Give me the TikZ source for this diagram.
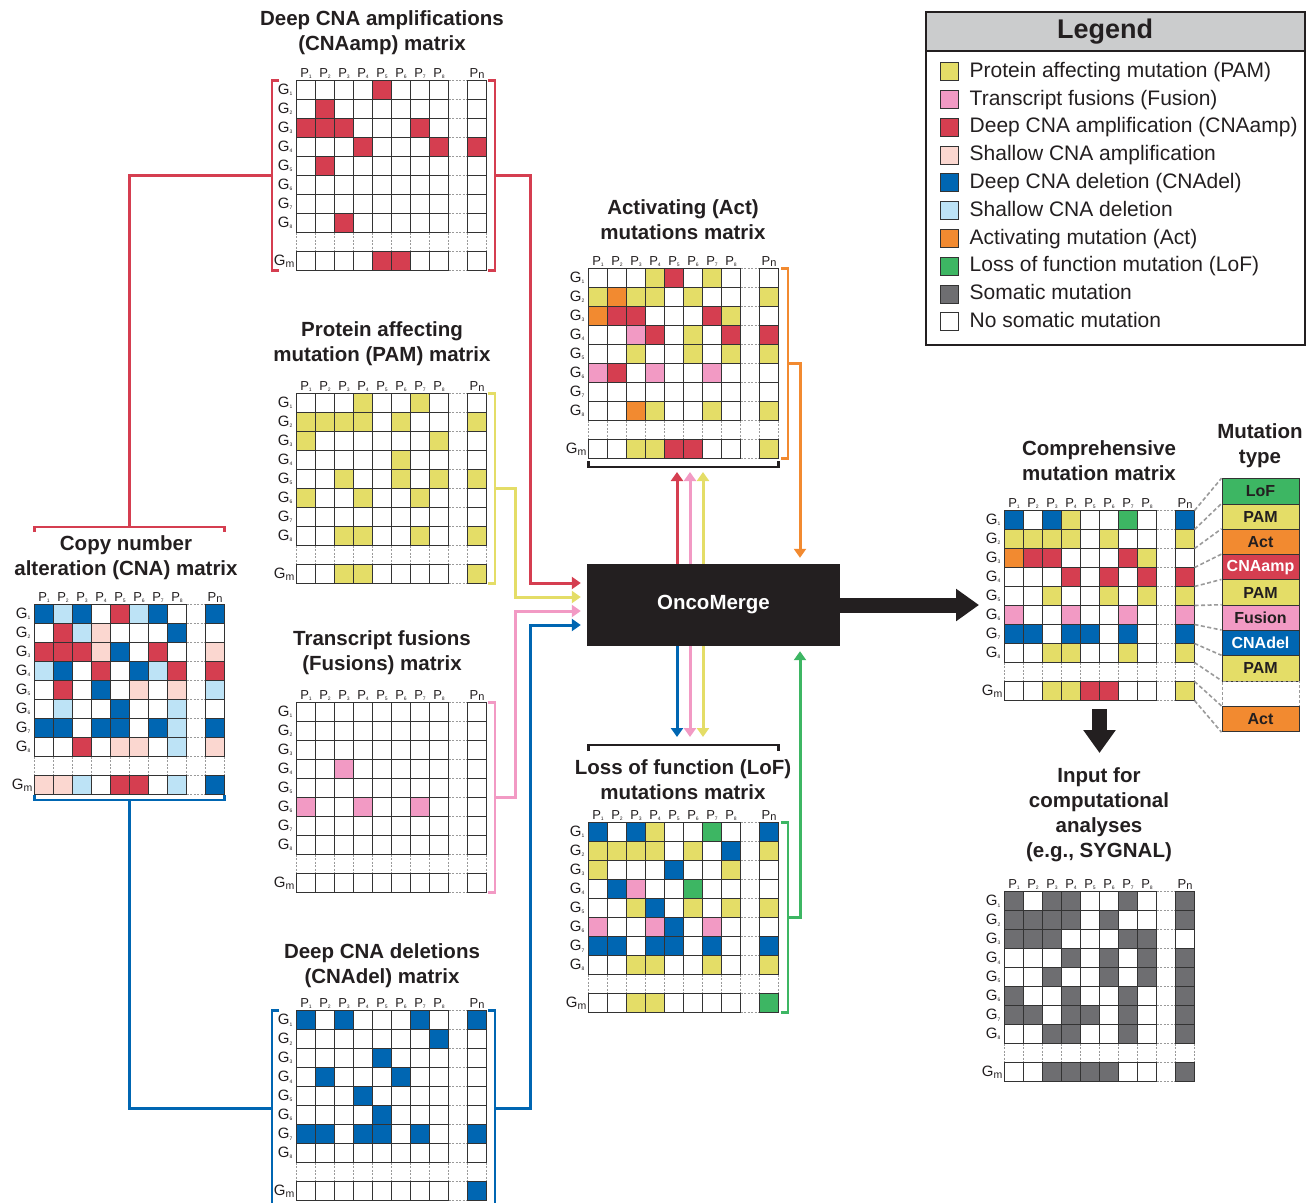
\documentclass[tikz,border=0pt]{standalone}
\usepackage{fontspec}
\setmainfont{Liberation Sans}
\usepackage{tikz}
\usetikzlibrary{arrows.meta}
\usetikzlibrary{calc}
\usetikzlibrary{positioning}

\definecolor{ink}{HTML}{231F20}
\definecolor{m0}{HTML}{FFFFFF}
\definecolor{m1}{HTML}{E4DD67}
\definecolor{m2}{HTML}{F29AC4}
\definecolor{m3}{HTML}{D53E50}
\definecolor{m4}{HTML}{FBD7D0}
\definecolor{m5}{HTML}{0066B2}
\definecolor{m6}{HTML}{BDE3F6}
\definecolor{m7}{HTML}{F28A30}
\definecolor{m8}{HTML}{3DB663}
\definecolor{m9}{HTML}{6E6E71}
\definecolor{headgray}{HTML}{CBCCCD}
\definecolor{gridline}{HTML}{333333}
\definecolor{gapgray}{HTML}{9A9A9A}

\newcommand{\gsub}[1]{\raisebox{-1.5pt}{\fontsize{5}{5}\selectfont #1}}
\newcommand{\psub}[1]{\raisebox{-1pt}{\fontsize{5}{5}\selectfont #1}}
\newcommand{\msub}[1]{\raisebox{-2pt}{\fontsize{10.5}{10.5}\selectfont #1}}

\newcommand{\genematrix}[4]{%
  \begin{scope}[shift={(#2,#3)}]
    \foreach \k in {0,...,10}{
      \draw[gapline] (\k*\cellsz,8*\cellsz) -- ++(0,\cellsz);
      \draw[gapline] (8*\cellsz,\k*\cellsz) -- ++(\cellsz,0);
    }
    \foreach \row [count=\rw] in {#4}{
      \pgfmathtruncatemacro{\ry}{\rw<9 ? \rw-1 : 9}
      \foreach \v [count=\col] in \row{
        \pgfmathtruncatemacro{\cx}{\col<9 ? \col-1 : 9}
        \draw[cell,fill=m\v] (\cx*\cellsz,\ry*\cellsz) rectangle ++(\cellsz,\cellsz);
      }
    }
    \foreach \rw in {1,...,8}
      \node[glab] (#1g\rw) at (-4,\rw*\cellsz-0.5*\cellsz) {G\gsub{\rw}};
    \node[glab] (#1gm) at (-2,9.5*\cellsz) {G\msub{m}};
    \foreach \col in {1,...,8}
      \node[plab] (#1p\col) at (\col*\cellsz-0.5*\cellsz,-2) {P\psub{\col}};
    \node[plab] (#1pn) at (9.5*\cellsz,-2) {P\raisebox{-0.5pt}{\fontsize{11}{11}\selectfont n}};
  \end{scope}}

\tikzset{
  cell/.style={draw=gridline,line width=1.4pt},
  gapline/.style={draw=gapgray,line width=0.8pt,dash pattern=on 2pt off 1.5pt},
  glab/.style={anchor=east,inner sep=0pt,text=ink,font=\fontsize{15}{15}\selectfont},
  plab/.style={anchor=south,inner sep=0pt,text=ink,font=\fontsize{13}{13}\selectfont},
  title/.style={align=center,inner sep=0pt,text=ink,font=\bfseries\fontsize{20.5}{25}\selectfont},
  brk/.style={line width=2.6pt},
  link/.style={line width=3pt},
  feed/.style={line width=3pt,-{Triangle[length=9pt,width=12pt]}},
  bigarrow/.style={draw=ink,line width=15pt,-{Triangle[length=23pt,width=31pt]}},
  merge/.style={fill=ink,text=white,minimum width=253pt,minimum height=82pt,inner sep=0pt,font=\bfseries\fontsize{20.5}{20.5}\selectfont},
  legendhead/.style={fill=headgray,draw=ink,line width=1.5pt,minimum width=379pt,minimum height=39pt,inner sep=0pt},
  legtitle/.style={inner sep=0pt,text=ink,font=\bfseries\fontsize{27}{27}\selectfont},
  swatch/.style={draw=gridline,line width=1pt,minimum size=18pt,inner sep=0pt},
  legtext/.style={inner sep=0pt,text=ink,text height=15pt,text depth=4pt,font=\fontsize{21}{21}\selectfont},
  typebox/.style={draw=gridline,line width=1pt,minimum width=77pt,minimum height=25.3pt,inner sep=0pt,font=\bfseries\fontsize{16}{16}\selectfont},
  typelink/.style={draw=gapgray,line width=1.6pt,dash pattern=on 4pt off 2.5pt}
}

\begin{document}
\begin{tikzpicture}[x=1pt,y=-1pt]
    \pgfmathsetmacro{\cellsz}{19}
    \useasboundingbox (0,0) rectangle (1314,1202);

    \node[title] (tAmp) at (382,32.5) {Deep CNA amplifications\\(CNAamp) matrix};
    \node[title] (tPam) at (382,343.5) {Protein affecting\\mutation (PAM) matrix};
    \node[title] (tFus) at (382,652.5) {Transcript fusions\\(Fusions) matrix};
    \node[title] (tDel) at (382,965.5) {Deep CNA deletions\\(CNAdel) matrix};
    \node[title] (tCna) at (126,557.5) {Copy number\\alteration (CNA) matrix};
    \node[title] (tAct) at (683,220) {Activating (Act)\\mutations matrix};
    \node[title] (tLof) at (683,779.5) {Loss of function (LoF)\\mutations matrix};
    \node[title] (tComp) at (1099,460.5) {Comprehensive\\mutation matrix};
    \node[title] (tType) at (1260,446) {Mutation\\type};
    \node[title] (tSyg) at (1099,814.5) {Input for\\computational\\analyses\\(e.g., SYGNAL)};

    \genematrix{amp}{296.5}{80.5}{{0,0,0,0,3,0,0,0,0},{0,3,0,0,0,0,0,0,0},{3,3,3,0,0,0,3,0,0},{0,0,0,3,0,0,0,3,3},{0,3,0,0,0,0,0,0,0},{0,0,0,0,0,0,0,0,0},{0,0,0,0,0,0,0,0,0},{0,0,3,0,0,0,0,0,0},{0,0,0,0,3,3,0,0,0}}
    \genematrix{pam}{296.5}{393.5}{{0,0,0,1,0,0,1,0,0},{1,1,1,1,0,1,0,0,1},{1,0,0,0,0,0,0,1,0},{0,0,0,0,0,1,0,0,0},{0,0,1,0,0,1,0,1,1},{1,0,0,1,0,0,1,0,0},{0,0,0,0,0,0,0,0,0},{0,0,1,1,0,0,1,0,1},{0,0,1,1,0,0,0,0,1}}
    \genematrix{fus}{296.5}{702.5}{{0,0,0,0,0,0,0,0,0},{0,0,0,0,0,0,0,0,0},{0,0,0,0,0,0,0,0,0},{0,0,2,0,0,0,0,0,0},{0,0,0,0,0,0,0,0,0},{2,0,0,2,0,0,2,0,0},{0,0,0,0,0,0,0,0,0},{0,0,0,0,0,0,0,0,0},{0,0,0,0,0,0,0,0,0}}
    \genematrix{del}{296.5}{1010.5}{{5,0,5,0,0,0,5,0,5},{0,0,0,0,0,0,0,5,0},{0,0,0,0,5,0,0,0,0},{0,5,0,0,0,5,0,0,0},{0,0,0,5,0,0,0,0,0},{0,0,0,0,5,0,0,0,0},{5,5,0,5,5,0,5,0,5},{0,0,0,0,0,0,0,0,0},{0,0,0,0,0,0,0,0,5}}
    \genematrix{cna}{34.5}{604.5}{{5,6,5,0,3,6,5,0,5},{0,3,6,4,0,0,0,5,0},{3,3,3,4,5,0,3,0,4},{6,5,0,3,0,5,6,3,3},{0,3,0,5,0,4,0,4,6},{0,6,0,0,5,0,0,6,0},{5,5,0,5,5,0,5,6,5},{0,0,3,0,4,4,0,6,4},{4,4,6,0,3,3,0,6,5}}
    \genematrix{act}{588.5}{268.5}{{0,0,0,1,3,0,1,0,0},{1,7,1,1,0,1,0,0,1},{7,3,3,0,0,0,3,1,0},{0,0,2,3,0,1,0,3,3},{0,0,1,0,0,1,0,1,1},{2,3,0,2,0,0,2,0,0},{0,0,0,0,0,0,0,0,0},{0,0,7,1,0,0,1,0,1},{0,0,1,1,3,3,0,0,1}}
    \genematrix{lof}{588.5}{822.5}{{5,0,5,1,0,0,8,0,5},{1,1,1,1,0,1,0,5,1},{1,0,0,0,5,0,0,1,0},{0,5,2,0,0,8,0,0,0},{0,0,1,5,0,1,0,1,1},{2,0,0,2,5,0,2,0,0},{5,5,0,5,5,0,5,0,5},{0,0,1,1,0,0,1,0,1},{0,0,1,1,0,0,0,0,8}}
    \genematrix{comp}{1004.5}{510.5}{{5,0,5,1,0,0,8,0,5},{1,1,1,1,0,1,0,0,1},{7,3,3,0,0,0,3,1,0},{0,0,0,3,0,3,0,3,3},{0,0,1,0,0,1,0,1,1},{2,0,0,2,0,0,2,0,2},{5,5,0,5,5,0,5,0,5},{0,0,1,1,0,0,1,0,1},{0,0,1,1,3,3,0,0,1}}
    \genematrix{syg}{1004.5}{891.5}{{9,0,9,9,0,0,9,0,9},{9,9,9,9,0,9,0,0,9},{9,9,9,0,0,0,9,9,0},{0,0,0,9,0,9,0,9,9},{0,0,9,0,0,9,0,9,9},{9,0,0,9,0,0,9,0,9},{9,9,0,9,9,0,9,0,9},{0,0,9,9,0,0,9,0,9},{0,0,9,9,9,9,0,0,9}}

    \draw[brk,m3] (279,80.5) -| (272,270.5) -- (279,270.5);
    \draw[brk,m3] (488,80.5) -| (495,270.5) -- (488,270.5);
    \draw[brk,m1] (488,393.5) -| (495,583.5) -- (488,583.5);
    \draw[brk,m2] (488,702.5) -| (495,892.5) -- (488,892.5);
    \draw[brk,m5] (279,1010.5) -| (272,1206);
    \draw[brk,m5] (488,1010.5) -| (495,1206);
    \draw[brk,m7] (781,268.5) -| (788,458.5) -- (781,458.5);
    \draw[brk,m8] (781,822.5) -| (788,1012.5) -- (781,1012.5);
    \draw[brk,ink] (588.5,461) |- (778.5,467) -- (778.5,461);
    \draw[brk,ink] (588.5,751) |- (778.5,745) -- (778.5,751);
    \draw[brk,m3] (34.5,532) |- (224.5,527) -- (224.5,532);
    \draw[brk,m5] (34.5,795) |- (224.5,800) -- (224.5,795);

    \coordinate (ampL) at (272,175.5);
    \coordinate (ampR) at (495,175.5);
    \coordinate (pamR) at (495,488.5);
    \coordinate (fusR) at (495,797.5);
    \coordinate (delL) at (272,1108);
    \coordinate (delR) at (495,1108);
    \coordinate (actR) at (788,363.5);
    \coordinate (lofR) at (788,917.5);
    \coordinate (actB) at (683,467);
    \coordinate (lofT) at (683,745);
    \coordinate (cnaT) at (129.5,527);
    \coordinate (cnaB) at (129.5,800);

    \node[merge] (merge) at (713.5,605) {OncoMerge};

    \coordinate (inAmp) at ($(merge.west)+(-6,-22)$);
    \coordinate (inPam) at ($(merge.west)+(-6,-8)$);
    \coordinate (inFus) at ($(merge.west)+(-6,6)$);
    \coordinate (inDel) at ($(merge.west)+(-6,20)$);
    \coordinate (outAct) at ($(merge.north)+(86.5,-6)$);
    \coordinate (inLof) at ($(merge.south)+(86.5,5)$);

    \draw[link,m3] (ampL) -| (cnaT);
    \draw[link,m5] (delL) -| (cnaB);
    \draw[feed,m3] (ampR) -- ++(35,0) |- (inAmp);
    \draw[feed,m1] (pamR) -- ++(20,0) |- (inPam);
    \draw[feed,m2] (fusR) -- ++(20,0) |- (inFus);
    \draw[feed,m5] (delR) -- ++(35,0) |- (inDel);
    \draw[feed,m7] (actR) -| (outAct);
    \draw[feed,m8] (lofR) -| (inLof);

    \foreach \dx/\k in {-36.5/3,-23.5/2,-10.5/1}
      \draw[feed,m\k] ($(merge.north)+(\dx,0)$) -- ($(merge.north |- actB)+(\dx,5)$);
    \foreach \dx/\k in {-36.5/5,-23.5/2,-10.5/1}
      \draw[feed,m\k] ($(merge.south)+(\dx,0)$) -- ($(merge.south |- lofT)+(\dx,-8)$);

    \coordinate (compIn) at (979,605);
    \coordinate (compOut) at (1099.5,709);
    \coordinate (sygIn) at (1099.5,753);
    \draw[bigarrow] (merge.east) -- (compIn);
    \draw[bigarrow] (compOut) -- (sygIn);

    \foreach \t/\k/\tc [count=\i] in {LoF/8/ink,PAM/1/ink,Act/7/ink,CNAamp/3/white,PAM/1/ink,Fusion/2/ink,CNAdel/5/white,PAM/1/ink}
      \node[typebox,fill=m\k,text=\tc] (ty\i) at (1260.5,{491.35+(\i-1)*25.3}) {\t};
    \node[typebox,draw=gapgray,dash pattern=on 3pt off 2pt] (ty9) at (1260.5,693.75) {};
    \node[typebox,fill=m7,text=ink] (ty10) at (1260.5,719.05) {Act};

    \foreach \k in {0,...,9}{
      \pgfmathtruncatemacro{\j}{\k+1}
      \coordinate (cr\k) at (1194.5,{510.5+\k*\cellsz});
      \draw[typelink] (cr\k) -- (ty\j.north west);
    }
    \coordinate (cr10) at (1194.5,700.5);
    \draw[typelink] (cr10) -- (ty10.south west);

    \draw[line width=2pt,ink] (926,12) rectangle (1305,345);
    \node[legendhead] (leghead) at (1115.5,31.5) {};
    \node[legtitle] (legtitle) at (1105,31.5) {Legend};
    \foreach \k/\txt [count=\i] in {1/Protein affecting mutation (PAM),2/Transcript fusions (Fusion),3/Deep CNA amplification (CNAamp),4/Shallow CNA amplification,5/Deep CNA deletion (CNAdel),6/Shallow CNA deletion,7/Activating mutation (Act),8/Loss of function mutation (LoF),9/Somatic mutation,0/No somatic mutation}{
      \node[swatch,fill=m\k] (sw\i) at (949,{71.7+(\i-1)*27.8}) {};
      \node[legtext,right=11pt of sw\i] (lt\i) {\txt};
    }
\end{tikzpicture}
\end{document}
